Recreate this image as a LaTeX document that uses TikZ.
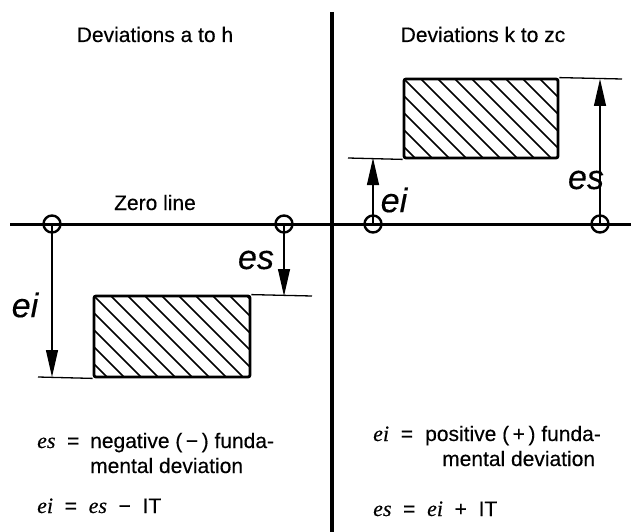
\documentclass[tikz,border=0pt]{standalone}
\usepackage{fontspec}
\setmainfont{Liberation Sans}[FakeBold=0.3]
\newfontfamily\tms{Liberation Serif}[FakeBold=0.3]
\usetikzlibrary{arrows.meta}
\newcommand{\vi}[1]{{\tms\itshape\fontsize{22}{26}\selectfont #1}}
\begin{document}
\begin{tikzpicture}[x=1pt,y=-1pt,
  heavy/.style={line width=3pt},
  thinref/.style={line width=1.3pt},
  dimarrow/.style={line width=1.2pt,-{Triangle[length=27pt,width=12pt]}},
  ring/.style={circle,draw,line width=2.4pt,minimum size=17pt,inner sep=0pt},
  hatchbox/.style={draw,line width=2.8pt,rounded corners=2pt,inner sep=0pt,
    path picture={\foreach \i in {-136,-119,...,200}
      \draw[line width=1.5pt,sharp corners] ([xshift=\i pt]path picture bounding box.north west) -- ++(130,130);}},
  lbl/.style={font=\fontsize{21}{25}\selectfont,inner sep=0pt},
  big/.style={font=\fontsize{34}{40}\selectfont\itshape,inner sep=0pt},
]
\useasboundingbox (0,0) rectangle (631,532);
% divider and zero line
\coordinate (dtop) at (332,12);
\coordinate (dbot) at (332,532);
\coordinate (zl) at (10,224);
\coordinate (zr) at (631,224);
\draw[line width=3.5pt] (dtop) -- (dbot);
\draw[heavy] (zl) -- (zr);
% circles on zero line
\node[ring] (c1) at (52,224) {};
\node[ring] (c2) at (284,224) {};
\node[ring] (c3) at (373,224) {};
\node[ring] (c4) at (600,224) {};
% headers
\node[lbl,anchor=base] (hl) at (155,42) {Deviations a to h};
\node[lbl,anchor=base] (hr) at (483,42) {Deviations k to zc};
\node[lbl,anchor=base] (zero) at (155,210) {Zero line};
% left tolerance zone
\node[hatchbox,minimum width=156pt,minimum height=81pt] (boxL) at (172,336.5) {};
\coordinate (lbl1) at (38,377);
\coordinate (ltr) at (312,296);
\draw[thinref] (lbl1) -- (boxL.south west);
\draw[thinref] (boxL.north east) -- (ltr);
\coordinate (eiL) at (52,377);
\coordinate (esL) at (284,296);
\draw[dimarrow] (c1.center) -- (eiL);
\draw[dimarrow] (c2.center) -- (esL);
\node[big] (tEiL) at (25,305) {ei};
\node[big] (tEsL) at (256,260) {es};
% right tolerance zone
\node[hatchbox,minimum width=154pt,minimum height=79pt] (boxR) at (481,118.5) {};
\coordinate (rbl) at (348,158);
\coordinate (rtr) at (622,79);
\draw[thinref] (rbl) -- (boxR.south west);
\draw[thinref] (boxR.north east) -- (rtr);
\coordinate (eiR) at (373,158);
\coordinate (esR) at (600,79);
\draw[dimarrow] (c3.center) -- (eiR);
\draw[dimarrow] (c4.center) -- (esR);
\node[big] (tEiR) at (394,200) {ei};
\node[big] (tEsR) at (586,180) {es};
% bottom texts
\node[lbl,anchor=base west] (l1) at (37,448) {\makebox[53pt][l]{\vi{es} \ =}negative (\,−\,) funda-};
\node[lbl,anchor=base west] (l2) at (90,473) {mental deviation};
\node[lbl,anchor=base west] (l3) at (37,513) {\vi{ei} \ = \ \vi{es} \ − \ IT};
\node[lbl,anchor=base west] (r1) at (373,441) {\makebox[52pt][l]{\vi{ei} \ =}positive (\,+\,) funda-};
\node[lbl,anchor=base west] (r2) at (442,466) {mental deviation};
\node[lbl,anchor=base west] (r3) at (373,516) {\vi{es} \ = \ \vi{ei} \ + \ IT};
\end{tikzpicture}
\end{document}
